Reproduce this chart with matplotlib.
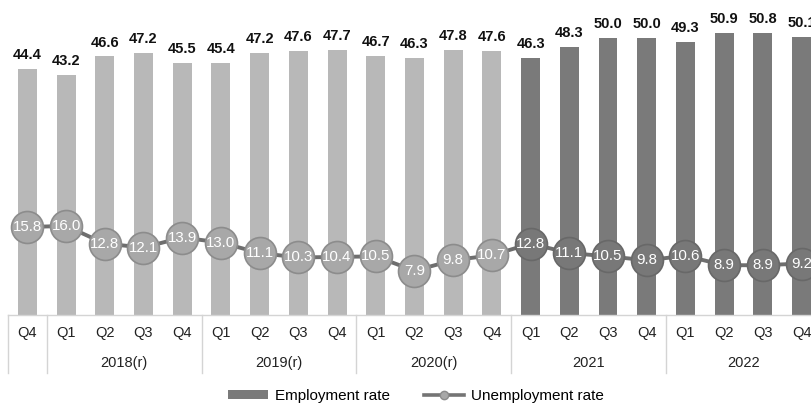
import matplotlib
matplotlib.use("Agg")
from matplotlib import pyplot as plt
from matplotlib import transforms
from matplotlib.lines import Line2D
from matplotlib.patches import Patch

plt.rcParams["font.family"] = ["Liberation Sans", "DejaVu Sans"]

quarters = ["Q4", "Q1", "Q2", "Q3", "Q4", "Q1", "Q2", "Q3", "Q4", "Q1", "Q2",
            "Q3", "Q4", "Q1", "Q2", "Q3", "Q4", "Q1", "Q2", "Q3", "Q4"]
years = ["2018(r)", "2019(r)", "2020(r)", "2021", "2022"]
year_spans = [(1, 4), (5, 8), (9, 12), (13, 16), (17, 20)]
employment = [44.4, 43.2, 46.6, 47.2, 45.5, 45.4, 47.2, 47.6, 47.7, 46.7, 46.3,
              47.8, 47.6, 46.3, 48.3, 50.0, 50.0, 49.3, 50.9, 50.8, 50.1]
unemployment = [15.8, 16.0, 12.8, 12.1, 13.9, 13.0, 11.1, 10.3, 10.4, 10.5, 7.9,
                9.8, 10.7, 12.8, 11.1, 10.5, 9.8, 10.6, 8.9, 8.9, 9.2]
N_OLD = 13  # first bars drawn in the lighter shade

LIGHT_BAR, DARK_BAR = "#b8b8b8", "#7a7a7a"
LIGHT_DOT, DARK_DOT = "#a8a8a8", "#787878"
LIGHT_EDGE, DARK_EDGE = "#8c8c8c", "#686868"
GRID = "#d4d4d4"

fig = plt.figure(figsize=(8.12, 4.05), dpi=100)
ax = fig.add_axes([8 / 812, 90.5 / 405, 1 - 8 / 812, 314.5 / 405])
x = list(range(len(quarters)))

bar_colors = [LIGHT_BAR if i < N_OLD else DARK_BAR for i in x]
ax.bar(x, employment, width=0.49, color=bar_colors, zorder=1)

for i, v in enumerate(employment):
    ax.annotate(f"{v:.1f}", (i, v), xytext=(0, 5), textcoords="offset points",
                ha="center", va="bottom", fontsize=10.5, fontweight="bold", color="#111111")

ax.plot(x, unemployment, color="#6e6e6e", lw=2.8, zorder=2)
for i, v in enumerate(unemployment):
    old = i < N_OLD
    ax.plot(i, v, "o", ms=23, mfc=LIGHT_DOT if old else DARK_DOT,
            mec=LIGHT_EDGE if old else DARK_EDGE, mew=1.2, zorder=3)
    ax.text(i, v, f"{v:.1f}", ha="center", va="center", fontsize=10.8,
            color="white", zorder=4)

ax.set_xlim(-0.5, 20.27)
ax.set_ylim(0, 56.8)
ax.set_xticks([])
ax.set_yticks([])
for s in ["top", "right", "left"]:
    ax.spines[s].set_visible(False)
ax.spines["bottom"].set_color(GRID)
ax.spines["bottom"].set_linewidth(1.0)

# two-level category axis
tr = transforms.blended_transform_factory(ax.transData, fig.transFigure)
for i, q in enumerate(quarters):
    ax.text(i, 1 - 333 / 405, q, transform=tr, ha="center", va="center",
            fontsize=10.5, color="#222222", clip_on=False)
for name, (a, b) in zip(years, year_spans):
    ax.text((a + b) / 2, 1 - 363 / 405, name, transform=tr, ha="center",
            va="center", fontsize=10.5, color="#222222", clip_on=False)
for sep in [-0.5, 0.5, 4.5, 8.5, 12.5, 16.5]:
    ax.plot([sep, sep], [1 - 314.5 / 405, 1 - 373 / 405], transform=tr,
            color=GRID, lw=1.0, clip_on=False)

handles = [Patch(facecolor=DARK_BAR, edgecolor="none", label="Employment rate"),
           Line2D([0], [0], color="#747474", lw=2.6, marker="o", ms=6,
                  mfc=LIGHT_DOT, mec=LIGHT_EDGE, label="Unemployment rate")]
fig.legend(handles=handles, loc="center", bbox_to_anchor=(416 / 812, 1 - 396 / 405),
           ncol=2, frameon=False, fontsize=11, handlelength=2.6, handleheight=0.5,
           columnspacing=2.2, handletextpad=0.5)

fig.savefig("out.png", dpi=100)
